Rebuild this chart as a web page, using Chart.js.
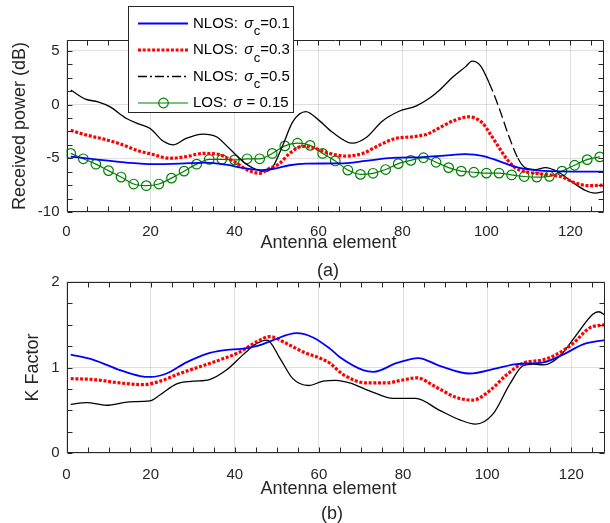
<!DOCTYPE html>
<html><head><meta charset="utf-8">
<script src="https://cdn.jsdelivr.net/npm/chart.js@4"></script>
<style>
html,body{margin:0;padding:0;background:#fff;width:610px;height:523px;overflow:hidden}
#c1{position:absolute;left:0;top:0}
#c2{position:absolute;left:0;top:260px}
</style></head><body>
<canvas id="c1" width="610" height="285"></canvas>
<canvas id="c2" width="610" height="263"></canvas>
<script>
// ---------- data: (a) received power ----------
const xTicks = [0, 20, 40, 60, 80, 100, 120];
const yTicksPower = [-10, -5, 0, 5];
const yTicksK = [0, 1, 2];

const powNlos01X = [1, 6.4, 14.3, 20.6, 27, 33.3, 38, 42, 46.5, 49.1, 53.1, 57, 65, 71.3, 77.6, 85, 90, 95, 99, 103, 106.9, 110.9, 117.2, 128];
const powNlos01Y = [-4.85, -5.08, -5.4, -5.55, -5.5, -5.4, -5.6, -5.9, -6.1, -6.0, -5.65, -5.5, -5.48, -5.25, -4.97, -4.9, -4.75, -4.62, -4.77, -5.27, -5.8, -6.08, -6.22, -6.25];

const powNlos03X = [1, 4.8, 8.7, 12.7, 16.7, 20.6, 24.6, 28.5, 32.5, 35.7, 39.6, 43.4, 46, 48.3, 50.7, 53.1, 56.2, 58.6, 62.6, 66.6, 70.5, 74.5, 78.4, 82.4, 85.9, 88.7, 91.9, 95.8, 99, 101, 103, 104.9, 106.9, 109.3, 114, 118, 121.2, 124.3, 128];
const powNlos03Y = [-2.4, -2.85, -3.2, -3.65, -4.25, -4.65, -5.0, -4.85, -4.55, -4.6, -5.25, -6.15, -6.4, -5.95, -5.5, -4.55, -3.9, -4.0, -4.55, -4.8, -4.55, -3.78, -3.15, -3.0, -2.75, -2.2, -1.55, -1.15, -1.7, -2.8, -4.0, -5.1, -5.9, -6.25, -6.5, -6.75, -7.3, -7.55, -7.5];

const powNlos05X = [1, 4.5, 7.5, 10.3, 14.3, 17.5, 20, 23, 25.5, 28.5, 32.5, 35.7, 38.8, 42.8, 47.3, 49.1, 51.5, 53.9, 57, 60.2, 63.4, 68.1, 71.3, 75.2, 79.2, 83.2, 86.5, 89, 92, 95, 96.6, 98.6, 100.6, 103, 105.3, 107.5, 109.3, 111.7, 114, 117.2, 120.4, 123.6, 125.9, 128];
const powNlos05Y = [1.35, 0.5, 0.25, -0.2, -1.3, -1.85, -2.25, -3.4, -3.75, -3.15, -2.75, -3.0, -4.1, -5.55, -6.25, -5.8, -3.8, -1.6, -0.67, -1.5, -2.6, -3.6, -3.1, -1.55, -0.63, -0.15, 0.6, 1.4, 2.55, 3.5, 4.04, 3.6, 2.05, -0.3, -2.9, -5.0, -5.9, -6.05, -5.88, -6.3, -7.2, -8.0, -8.25, -8.1];

const powLosX = [1, 4, 7, 10, 13, 16, 19, 22, 25, 28, 31, 34, 37, 40, 43, 46, 49, 52, 55, 58, 61, 64, 67, 70, 73, 76, 79, 82, 85, 88, 91, 94, 97, 100, 103, 106, 109, 112, 115, 118, 121, 124, 127];
const powLosY = [-4.55, -5.05, -5.55, -6.15, -6.75, -7.4, -7.55, -7.4, -6.85, -6.2, -5.55, -5.1, -5.1, -5.15, -5.05, -5.05, -4.55, -3.85, -3.6, -3.8, -4.55, -5.25, -6.1, -6.5, -6.4, -6.05, -5.5, -5.2, -4.95, -5.37, -5.87, -6.2, -6.3, -6.38, -6.38, -6.55, -6.7, -6.75, -6.68, -6.2, -5.65, -5.13, -4.87];

// ---------- data: (b) K factor ----------
const kNlos01X = [1, 6.4, 12.7, 17.5, 20, 23.8, 28.5, 33.3, 37.2, 42, 46, 49.1, 54.7, 58.6, 62.6, 65, 70.5, 73, 78.4, 83.6, 88.7, 95.8, 102.2, 107, 113.3, 118, 122.8, 128];
const kNlos01Y = [1.15, 1.09, 0.97, 0.90, 0.89, 0.93, 1.06, 1.16, 1.2, 1.22, 1.26, 1.32, 1.40, 1.35, 1.22, 1.12, 0.97, 0.95, 1.05, 1.11, 1.02, 0.93, 0.99, 1.04, 1.06, 1.15, 1.27, 1.32];

const kNlos03X = [1, 6.4, 12.7, 18.2, 22.2, 26.9, 31.7, 36.5, 41.2, 45.2, 48.3, 52.3, 56.3, 60.2, 62.6, 65.7, 71.3, 76, 79.5, 83.2, 87.9, 92.7, 96.6, 100.6, 104.5, 108.5, 113.3, 116.4, 120.4, 124.3, 128];
const kNlos03Y = [0.87, 0.86, 0.82, 0.80, 0.84, 0.93, 1.01, 1.09, 1.18, 1.30, 1.36, 1.28, 1.18, 1.11, 1.05, 0.92, 0.82, 0.82, 0.85, 0.88, 0.77, 0.65, 0.62, 0.73, 0.91, 1.05, 1.09, 1.15, 1.28, 1.46, 1.5];

const kNlos05X = [1, 4.8, 9.5, 15, 19.8, 22.2, 26.2, 30.1, 34, 38, 42, 45.2, 47.7, 50.7, 53.8, 57.5, 61, 64, 67.3, 72.9, 77.6, 83, 88.7, 93.5, 97.2, 101.4, 105.3, 108.5, 111, 113.5, 117.2, 121.2, 125.1, 126.5, 128];
const kNlos05Y = [0.57, 0.59, 0.56, 0.6, 0.61, 0.68, 0.81, 0.84, 0.86, 0.97, 1.15, 1.28, 1.32, 1.11, 0.87, 0.79, 0.84, 0.85, 0.82, 0.71, 0.64, 0.64, 0.5, 0.39, 0.34, 0.46, 0.8, 1.02, 1.04, 1.03, 1.13, 1.38, 1.62, 1.65, 1.61];

const seriesNames = ['NLOS: σc=0.1', 'NLOS: σc=0.3', 'NLOS: σc=0.5', 'LOS: σ = 0.15'];

// ---------- styling ----------
const FONT = '"Liberation Sans", Arial, Helvetica, sans-serif';
const AXC = '#262626';
const GRIDC = 'rgba(38,38,38,0.15)';
const BLUE = '#0000ff', RED = '#ff0000', BLACK = '#000000', GREEN = '#008000';
const DOTTED = [3, 1.7];

function pts(xs, ys) { return xs.map((x, i) => ({x: x, y: ys[i]})); }

function lineDs(label, xs, ys, color, width, dash) {
  return {label: label, data: pts(xs, ys), borderColor: color, backgroundColor: color,
    borderWidth: width, borderDash: dash || [], pointRadius: 0, pointHoverRadius: 0,
    cubicInterpolationMode: 'monotone', fill: false};
}

function framePlugin(minorX, minorY) {
  return {
    id: 'frame',
    afterDatasetsDraw(chart) {
      const {ctx, chartArea: a, scales: {x, y}} = chart;
      ctx.save();
      ctx.strokeStyle = AXC; ctx.lineWidth = 1;
      const L = Math.round(a.left) + 0.5, R = Math.round(a.right) - 0.5;
      const T = Math.round(a.top) + 0.5, B = Math.round(a.bottom) - 0.5;
      ctx.beginPath();
      ctx.rect(L, T, R - L, B - T);
      const tl = 5;
      for (let v = x.min; v <= x.max + 1e-9; v += minorX) {
        const p = Math.round(x.getPixelForValue(v)) + 0.5;
        ctx.moveTo(p, B); ctx.lineTo(p, B - tl);
        ctx.moveTo(p, T); ctx.lineTo(p, T + tl);
      }
      for (let v = y.min; v <= y.max + 1e-9; v += minorY) {
        const p = Math.round(y.getPixelForValue(v)) + 0.5;
        ctx.moveTo(L, p); ctx.lineTo(L + tl, p);
        ctx.moveTo(R, p); ctx.lineTo(R - tl, p);
      }
      ctx.stroke();
      ctx.restore();
    }
  };
}

function textPlugin(title, titleX, titleY, cap, capX, capY) {
  return {
    id: 'texts',
    afterDraw(chart) {
      const ctx = chart.ctx;
      ctx.save();
      ctx.fillStyle = AXC;
      ctx.font = '18px ' + FONT;
      ctx.textAlign = 'center'; ctx.textBaseline = 'middle';
      ctx.fillText(title, titleX, titleY);
      ctx.fillText(cap, capX, capY);
      ctx.restore();
    }
  };
}

const legendPlugin = {
  id: 'matlabLegend',
  afterDraw(chart) {
    const ctx = chart.ctx;
    const bx = 128.5, by = 6.5, bw = 165, bh = 106;
    ctx.save();
    ctx.fillStyle = '#fff';
    ctx.fillRect(bx, by, bw, bh);
    ctx.strokeStyle = AXC; ctx.lineWidth = 1;
    ctx.strokeRect(bx, by, bw, bh);
    const rows = [23.5, 50, 76.5, 103];
    const ds = chart.data.datasets;
    const parts = [
      ['NLOS: ', 'σ', 'c', '=0.1'],
      ['NLOS: ', 'σ', 'c', '=0.3'],
      ['NLOS: ', 'σ', 'c', '=0.5'],
      ['LOS: ', 'σ', '', ' = 0.15']
    ];
    for (let i = 0; i < 4; i++) {
      const y = rows[i], d = ds[i];
      ctx.save();
      ctx.strokeStyle = d.borderColor;
      ctx.lineWidth = d.borderWidth;
      if (i === 2) ctx.setLineDash([9, 3, 2, 3]);
      else ctx.setLineDash(d.borderDash || []);
      ctx.beginPath(); ctx.moveTo(138, y); ctx.lineTo(188, y); ctx.stroke();
      if (i === 3) {
        ctx.setLineDash([]);
        ctx.beginPath(); ctx.arc(163.5, y, d.pointRadius, 0, Math.PI * 2); ctx.stroke();
      }
      ctx.restore();
      // text
      ctx.fillStyle = '#000';
      ctx.textAlign = 'left'; ctx.textBaseline = 'middle';
      let x = 193;
      const p = parts[i];
      ctx.font = '15px ' + FONT;
      ctx.fillText(p[0], x, y); x += ctx.measureText(p[0]).width + 2;
      ctx.font = 'italic 15px ' + FONT;
      ctx.fillText(p[1], x, y); x += ctx.measureText(p[1]).width;
      if (p[2]) {
        ctx.font = '13px ' + FONT;
        ctx.fillText(p[2], x + 0.5, y + 8); x += ctx.measureText(p[2]).width + 0.5;
      }
      ctx.font = '15px ' + FONT;
      ctx.fillText(p[3], x, y);
    }
    ctx.restore();
  }
};

function xScale(labelPad, axisH) {
  return {
    type: 'linear', min: 0, max: 128,
    afterBuildTicks: s => { s.ticks = xTicks.map(v => ({value: v})); },
    afterFit: s => { s.height = axisH; },
    grid: {color: GRIDC, lineWidth: 1, drawTicks: false},
    border: {display: false},
    ticks: {color: AXC, font: {size: 15, family: FONT}, padding: labelPad, maxRotation: 0, autoSkip: false, includeBounds: false}
  };
}

function yScale(min, max, tickArr, title, titlePad) {
  return {
    type: 'linear', min: min, max: max,
    afterBuildTicks: s => { s.ticks = tickArr.map(v => ({value: v})); },
    afterFit: s => { s.width = 66.5; },
    grid: {color: GRIDC, lineWidth: 1, drawTicks: false},
    border: {display: false},
    ticks: {color: AXC, font: {size: 15, family: FONT}, padding: 7, autoSkip: false, includeBounds: false},
    title: {display: true, text: title, color: AXC, font: {size: 18, family: FONT}, padding: {top: titlePad, bottom: 0}}
  };
}

const dashFrom = 100.6, dashTo = 107.5;
const blackDs = lineDs(seriesNames[2], powNlos05X, powNlos05Y, BLACK, 1.3);
blackDs.segment = {
  borderDash: c => (c.p0.parsed.x >= dashFrom && c.p1.parsed.x <= dashTo) ? [10, 4] : undefined
};
const greenDs = lineDs(seriesNames[3], powLosX, powLosY, GREEN, 1.2);
Object.assign(greenDs, {pointRadius: 4.8, pointBorderWidth: 1.2, pointBorderColor: GREEN, pointBackgroundColor: 'rgba(0,0,0,0)', pointStyle: 'circle'});

new Chart(document.getElementById('c1'), {
  type: 'line',
  data: {datasets: [
    lineDs(seriesNames[0], powNlos01X, powNlos01Y, BLUE, 1.8),
    lineDs(seriesNames[1], powNlos03X, powNlos03Y, RED, 3.2, DOTTED),
    blackDs,
    greenDs
  ]},
  options: {
    responsive: false, animation: false, devicePixelRatio: 1,
    layout: {padding: {left: 0, right: 5, top: 40, bottom: 0}},
    plugins: {legend: {display: false}, tooltip: {enabled: false}},
    scales: {
      x: xScale(11, 73),
      y: yScale(-10, 6, yTicksPower, 'Received power (dB)', 9)
    }
  },
  plugins: [framePlugin(5, 1.25), textPlugin('Antenna element', 328.5, 243, '(a)', 328, 271), legendPlugin]
});

new Chart(document.getElementById('c2'), {
  type: 'line',
  data: {datasets: [
    lineDs(seriesNames[0], kNlos01X, kNlos01Y, BLUE, 1.8),
    lineDs(seriesNames[1], kNlos03X, kNlos03Y, RED, 3.2, DOTTED),
    lineDs(seriesNames[2], kNlos05X, kNlos05Y, BLACK, 1.3)
  ]},
  options: {
    responsive: false, animation: false, devicePixelRatio: 1,
    layout: {padding: {left: 0, right: 5, top: 21.7, bottom: 0}},
    plugins: {legend: {display: false}, tooltip: {enabled: false}},
    scales: {
      x: xScale(12.5, 69.7),
      y: yScale(0, 2, yTicksK, 'K Factor', 22)
    }
  },
  plugins: [framePlugin(5, 0.25), textPlugin('Antenna element', 328.5, 229, '(b)', 332, 254)]
});
</script>
</body></html>
